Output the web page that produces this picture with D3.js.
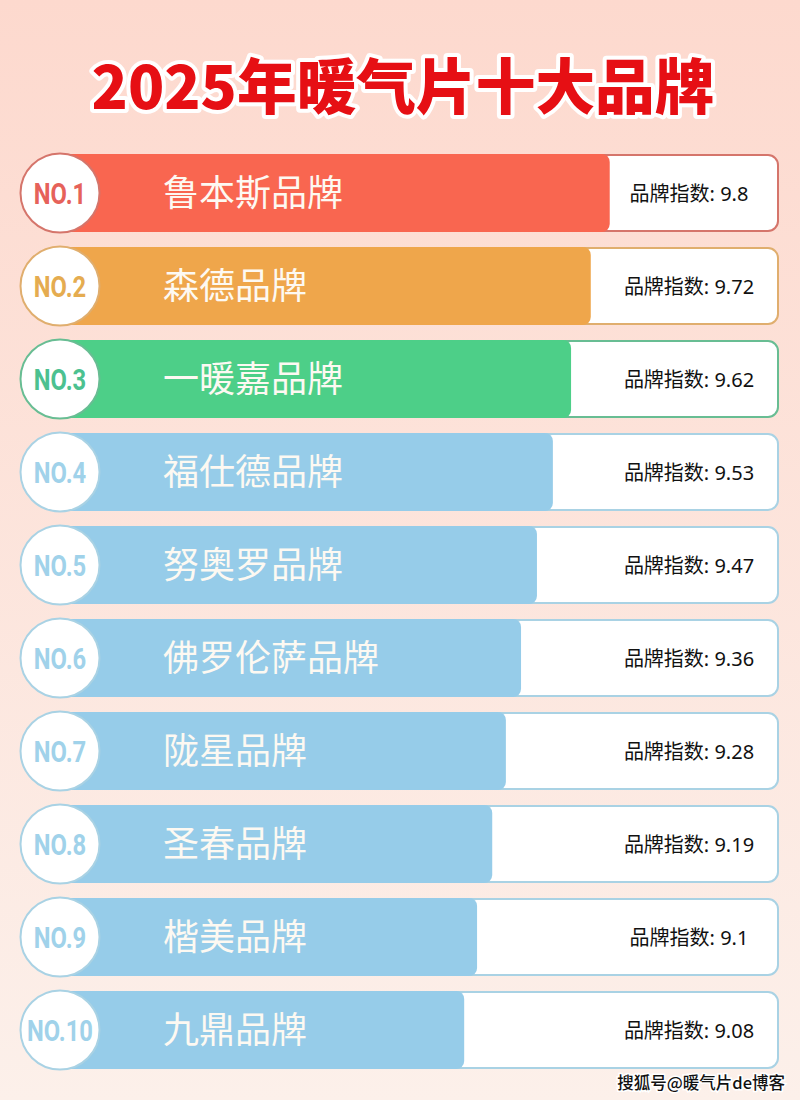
<!DOCTYPE html>
<html>
<head>
<meta charset="utf-8">
<script src="https://cdn.jsdelivr.net/npm/d3@7"></script>
<style>
  html, body { margin: 0; padding: 0; }
  svg { display: block; }
</style>
</head>
<body>
<div id="chart"></div>
<script>
const titleText = '2025年暖气片十大品牌';
const footerText = '搜狐号@暖气片de博客';
const valuePrefix = '品牌指数: ';

const ranks = ['NO.1', 'NO.2', 'NO.3', 'NO.4', 'NO.5', 'NO.6', 'NO.7', 'NO.8', 'NO.9', 'NO.10'];
const brands = ['鲁本斯品牌', '森德品牌', '一暖嘉品牌', '福仕德品牌', '努奥罗品牌', '佛罗伦萨品牌', '陇星品牌', '圣春品牌', '楷美品牌', '九鼎品牌'];
const scores = ['9.8', '9.72', '9.62', '9.53', '9.47', '9.36', '9.28', '9.19', '9.1', '9.08'];
// how much of the track each bar fills, in percent (the bars don't follow the scores exactly)
const fillPercent = [77.8, 75.3, 72.7, 70.3, 68.2, 66.1, 64.1, 62.3, 60.3, 58.6];

const width = 800, height = 1100;
const cjk = '"Noto Sans CJK SC", sans-serif';

// top three get their own colour, the rest are blue
const topRanks = ranks.slice(0, 3);
const barColor = d3.scaleOrdinal().domain(topRanks).range(['#f96650', '#efa64b', '#4dcf88']).unknown('#96cce9');
const edgeColor = d3.scaleOrdinal().domain(topRanks).range(['#d5756b', '#e0ae6e', '#68bd93']).unknown('#a9d2e4');
const rankColor = d3.scaleOrdinal().domain(topRanks).range(['#e6625a', '#e5ac50', '#4cc190']).unknown('#a0d2ea');

const svg = d3.select('#chart').append('svg')
    .attr('width', width)
    .attr('height', height);

const grad = svg.append('defs').append('linearGradient')
    .attr('id', 'bg')
    .attr('x1', 0).attr('y1', 0).attr('x2', 0).attr('y2', 1);
grad.append('stop').attr('offset', '0%').attr('stop-color', '#fdd9ce');
grad.append('stop').attr('offset', '100%').attr('stop-color', '#fcf0ea');

svg.append('rect')
    .attr('width', width)
    .attr('height', height)
    .attr('fill', 'url(#bg)');

svg.append('text')
    .attr('x', 403)
    .attr('y', 109)
    .attr('text-anchor', 'middle')
    .attr('font-family', cjk)
    .attr('font-size', 59.7)
    .attr('font-weight', 900)
    .attr('fill', '#e60f14')
    .attr('stroke', '#fff')
    .attr('stroke-width', 8)
    .attr('stroke-linejoin', 'round')
    .attr('paint-order', 'stroke')
    .text(titleText);

const x = d3.scaleLinear().domain([0, 100]).range([20, 778]);
const y = d3.scaleBand().domain(ranks).range([155, 1068]).paddingInner(0.183).paddingOuter(0);

const rows = svg.selectAll('g.row')
    .data(ranks)
    .enter()
    .append('g')
    .attr('class', 'row')
    .attr('transform', d => `translate(0,${y(d)})`);

const barH = y.bandwidth();

// white track behind the bar
rows.append('rect')
    .attr('x', 60)
    .attr('width', x(100) - 60)
    .attr('height', barH)
    .attr('rx', 10)
    .attr('fill', '#fff')
    .attr('stroke', d => edgeColor(d))
    .attr('stroke-width', 2);

rows.append('rect')
    .attr('x', 60)
    .attr('y', -1)
    .attr('width', (d, i) => x(fillPercent[i]) - 60)
    .attr('height', barH + 2)
    .attr('rx', 8)
    .attr('fill', d => barColor(d));

rows.append('circle')
    .attr('cx', 60)
    .attr('cy', barH / 2)
    .attr('r', 39.5)
    .attr('fill', '#fff')
    .attr('stroke', d => edgeColor(d))
    .attr('stroke-width', 2);

// no condensed face is installed, so squeeze Roboto
rows.append('text')
    .attr('transform', `translate(60,${barH / 2 + 11}) scale(0.82,1)`)
    .attr('text-anchor', 'middle')
    .attr('font-family', 'Roboto, sans-serif')
    .attr('font-size', 29)
    .attr('font-weight', 700)
    .attr('fill', d => rankColor(d))
    .text(d => d);

rows.append('text')
    .attr('x', 163)
    .attr('y', barH / 2 + 13)
    .attr('font-family', cjk)
    .attr('font-size', 36)
    .attr('fill', '#fdf9f2')
    .text((d, i) => brands[i]);

rows.append('text')
    .attr('x', 689)
    .attr('y', barH / 2 + 8)
    .attr('text-anchor', 'middle')
    .attr('font-family', '"Noto Sans", ' + cjk)
    .attr('font-size', 20)
    .attr('fill', '#111')
    .text((d, i) => valuePrefix + scores[i]);

svg.append('text')
    .attr('x', 785)
    .attr('y', 1089)
    .attr('text-anchor', 'end')
    .attr('font-family', cjk)
    .attr('font-size', 16.5)
    .attr('font-weight', 500)
    .attr('fill', '#111')
    .attr('stroke', '#fff')
    .attr('stroke-width', 3)
    .attr('paint-order', 'stroke')
    .text(footerText);
</script>
</body>
</html>
